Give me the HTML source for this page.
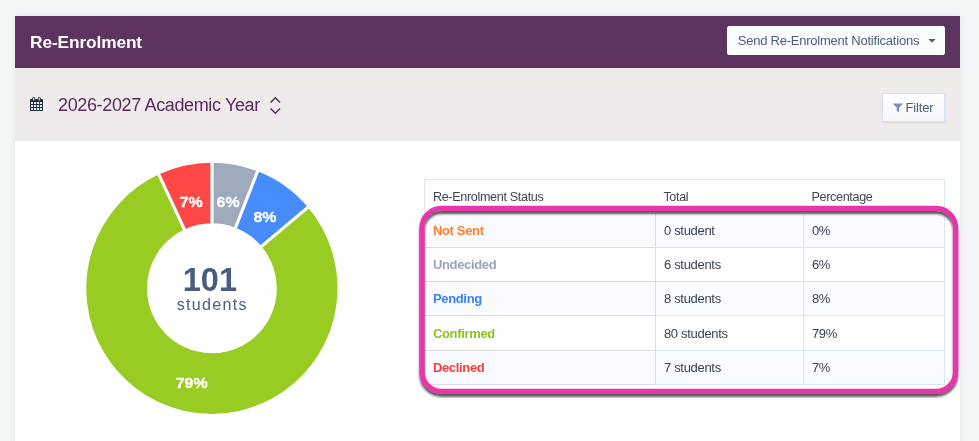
<!DOCTYPE html>
<html lang="en">
<head>
<meta charset="utf-8">
<title>Re-Enrolment</title>
<style>
*{box-sizing:border-box;margin:0;padding:0}
html,body{width:979px;height:441px;overflow:hidden}
body{background:#f3f6f7;font-family:"Liberation Sans","DejaVu Sans",sans-serif;position:relative;color:#3a4354}
.panel{position:absolute;left:15px;top:16px;width:945px;height:440px;background:#fff;box-shadow:0 0 4px rgba(60,80,90,.10)}
.hdr{position:absolute;left:15px;top:16px;width:945px;height:52px;background:#5d3360}
.sub{position:absolute;left:15px;top:68px;width:945px;height:72.5px;background:#efebeb}
.abs{position:absolute;white-space:nowrap;line-height:1}
.title{left:30.1px;top:34.3px;font-size:17.3px;font-weight:bold;color:#fff;letter-spacing:-.12px}
.btn{position:absolute;background:#fbfcfe;border:1px solid #d6e3f6;border-radius:2px;color:#4d5d7b;font-size:13px;white-space:nowrap;line-height:1}
.btn1{left:727px;top:26px;width:218px;height:29px;border-color:#fff}
.btn2{left:882px;top:93px;width:63px;height:29px;background:linear-gradient(#fefeff,#f6f7f9);box-shadow:0 1px 2px rgba(120,140,180,.18)}
.year{left:58px;top:96px;font-size:18px;color:#5a2a5e;letter-spacing:-.36px}
table{position:absolute;left:424px;top:179px;width:521px;border-collapse:collapse;font-size:13px;table-layout:fixed}
td,th{height:34px;padding:0 0 0 7.9px;letter-spacing:-.3px;text-align:left;vertical-align:middle;border:1px solid #d9e6f6;font-weight:normal;white-space:nowrap}
th{border-left:none;border-right:none;color:#3f4656;font-size:12.6px;letter-spacing:-.33px}
tr:first-child th:first-child{border-left:1px solid #d9e6f6}
tr:first-child th:last-child{border-right:1px solid #d9e6f6}
tbody tr:nth-child(odd) td{background:#f9fbfe}
td.s{font-weight:bold;letter-spacing:-.33px;border-color:#ddd}
tr.r4 td{height:35px}
</style>
</head>
<body>
<div class="panel"></div>
<div class="hdr"></div>
<div class="sub"></div>
<div class="abs title" id="title">Re-Enrolment</div>

<div class="btn btn1"><span class="abs" id="b1t" style="left:9.7px;top:7px;letter-spacing:-.23px">Send Re-Enrolment Notifications</span>
<svg class="abs" style="left:200.4px;top:12px" width="8" height="4" viewBox="0 0 8 4"><path d="M0.3 0h7.4L4 3.8z" fill="#4d5d7b"/></svg></div>

<div class="btn btn2"><svg class="abs" style="left:10px;top:8.6px" width="9.8" height="10.2" viewBox="0 0 11 11"><path d="M0.4 0.3h10.2c.4 0 .5.4.3.7L6.8 5.2v5.3L4.2 8.6V5.2L.1 1C-.1.7 0 .3.4.3z" fill="#7e91b8"/></svg><span class="abs" id="b2t" style="left:22.5px;top:7px;letter-spacing:-.15px">Filter</span></div>

<svg class="abs" style="left:30px;top:97px" width="13" height="14" viewBox="0 0 13 14">
<path fill="#1f2a44" fill-rule="evenodd" d="M1 2h11a1 1 0 0 1 1 1v10a1 1 0 0 1-1 1H1a1 1 0 0 1-1-1V3a1 1 0 0 1 1-1z M1 5v2h2V5z M4 5v2h2.2V5z M7 5v2h2.2V5z M10 5v2h2V5z M1 8v2h2V8z M4 8v2h2.2V8z M7 8v2h2.2V8z M10 8v2h2V8z M1 11v2h2v-2z M4 11v2h2.2v-2z M7 11v2h2.2v-2z M10 11v2h2v-2z"/>
<rect x="2.2" y="0" width="3" height="4.4" rx="1.5" fill="#1f2a44"/><rect x="3.1" y="0.8" width="1.2" height="2.8" rx=".6" fill="#efebeb"/>
<rect x="7.8" y="0" width="3" height="4.4" rx="1.5" fill="#1f2a44"/><rect x="8.7" y="0.8" width="1.2" height="2.8" rx=".6" fill="#efebeb"/>
</svg>
<div class="abs year" id="year">2026-2027 Academic Year</div>
<svg class="abs" style="left:269px;top:96px" width="13" height="19" viewBox="0 0 13 19"><path d="M1.6 6.6L6.3 1.8L11 6.6M1.6 12.4L6.3 17.2L11 12.4" fill="none" stroke="#5a2a5e" stroke-width="1.5"/></svg>

<svg class="abs" style="left:0;top:0" width="979" height="441" viewBox="0 0 979 441" id="chart">
<g stroke="#fff" stroke-width="3" stroke-linejoin="miter">
<path fill="#9ea9bb" d="M211.90 161.15A127.1 127.1 0 0 1 258.25 169.90L235.02 229.22A63.4 63.4 0 0 0 211.90 224.85Z"/>
<path fill="#468cfb" d="M258.25 169.90A127.1 127.1 0 0 1 309.12 206.38L260.40 247.41A63.4 63.4 0 0 0 235.02 229.22Z"/>
<path fill="#99cc22" d="M309.12 206.38A127.1 127.1 0 1 1 158.28 173.01L185.16 230.77A63.4 63.4 0 1 0 260.40 247.41Z"/>
<path fill="#fe4848" d="M158.28 173.01A127.1 127.1 0 0 1 211.90 161.15L211.90 224.85A63.4 63.4 0 0 0 185.16 230.77Z"/>
</g>
<g font-family="Liberation Sans, sans-serif" font-weight="bold" font-size="14.7" fill="#fff" stroke="#fff" stroke-width=".3" text-anchor="middle">
<text transform="translate(191.2 206.9) scale(1.085 1)">7%</text>
<text transform="translate(228.1 206.9) scale(1.085 1)">6%</text>
<text transform="translate(264.9 221.9) scale(1.085 1)">8%</text>
<text transform="translate(191.7 388) scale(1.085 1)">79%</text>
</g>
<text x="209.9" y="291" text-anchor="middle" font-family="Liberation Sans, sans-serif" font-weight="bold" font-size="32.5" fill="#4a5d80" id="n101">101</text>
<text x="212.3" y="309.7" text-anchor="middle" font-family="Liberation Sans, sans-serif" font-size="16" fill="#4a5d80" letter-spacing="1.35" id="stu">students</text>
</svg>

<table>
<thead><tr><th style="width:231px">Re-Enrolment Status</th><th style="width:148px">Total</th><th>Percentage</th></tr></thead>
<tbody>
<tr><td class="s" style="color:#ff7f2a">Not Sent</td><td>0 student</td><td>0%</td></tr>
<tr><td class="s" style="color:#9aa5b8">Undecided</td><td>6 students</td><td>6%</td></tr>
<tr><td class="s" style="color:#3b82f6">Pending</td><td>8 students</td><td>8%</td></tr>
<tr class="r4"><td class="s" style="color:#8cc21f">Confirmed</td><td>80 students</td><td>79%</td></tr>
<tr><td class="s" style="color:#fa3e3e">Declined</td><td>7 students</td><td>7%</td></tr>
</tbody>
</table>

<svg class="abs" style="left:0;top:0;pointer-events:none" width="979" height="441" viewBox="0 0 979 441">
<defs><filter id="ds" x="-5%" y="-10%" width="110%" height="125%"><feGaussianBlur in="SourceAlpha" stdDeviation="0.8"/><feOffset dx="0" dy="2.9"/><feComponentTransfer><feFuncA type="linear" slope="0.64"/></feComponentTransfer><feMerge><feMergeNode/><feMergeNode in="SourceGraphic"/></feMerge></filter></defs>
<rect x="422" y="208.4" width="533.6" height="183.05" rx="19.5" ry="19.5" fill="none" stroke="#e935ac" stroke-width="5.3" filter="url(#ds)"/>
</svg>

</body>
</html>
